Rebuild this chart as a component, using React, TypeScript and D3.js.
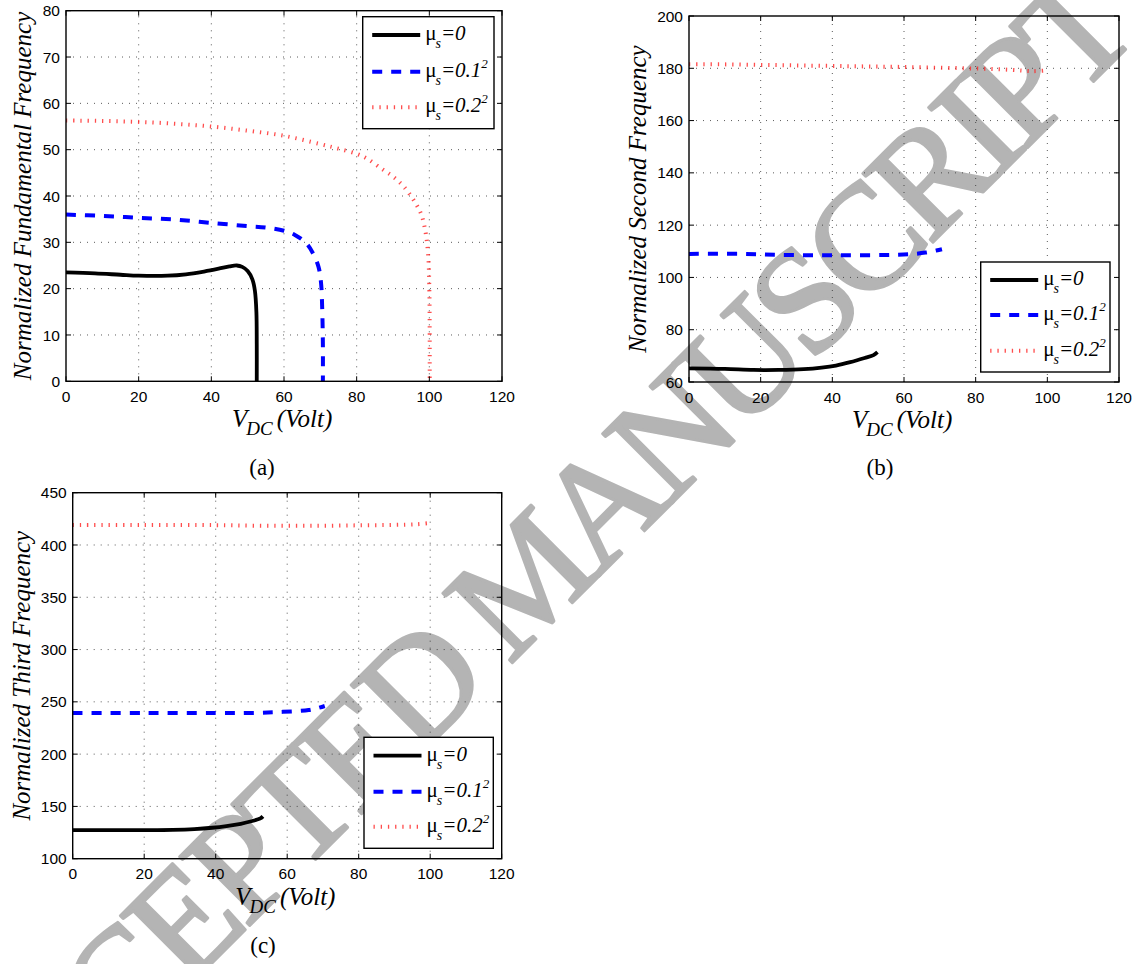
import React from "react";
import * as d3 from "d3";

type Pt = [number, number];

// Axis ticks
const vdcTicks = [0, 20, 40, 60, 80, 100, 120];
const fundTicks = [0, 10, 20, 30, 40, 50, 60, 70, 80];
const secondTicks = [60, 80, 100, 120, 140, 160, 180, 200];
const thirdTicks = [100, 150, 200, 250, 300, 350, 400, 450];

// Legend entries: base value and whether squared
const legendLabels = [
  { value: "0", squared: false },
  { value: "0.1", squared: true },
  { value: "0.2", squared: true },
];

// (a) normalized fundamental frequency vs V_DC
const fundMu0: Pt[] = [
  [0, 23.5], [8, 23.3], [15, 23.0], [20, 22.8], [28, 22.8], [33, 23.1], [38, 23.7],
  [42, 24.3], [45, 24.8], [47, 25.0], [48.5, 24.7], [50, 23.8], [51.3, 22.0],
  [52, 19.5], [52.4, 15], [52.5, 8], [52.5, 0],
];
const fundMu01: Pt[] = [
  [0, 36.0], [10, 35.7], [20, 35.3], [30, 34.9], [40, 34.2], [50, 33.5], [55, 33.2],
  [60, 32.5], [63, 31.6], [66, 29.9], [68, 27.6], [69.5, 24.7], [70.2, 21.2],
  [70.5, 16.1], [70.7, 8], [70.7, 0],
];
const fundMu02: Pt[] = [
  [0, 56.3], [10, 56.2], [20, 56.0], [30, 55.6], [40, 55.0], [50, 54.1], [60, 53.0],
  [70, 51.2], [75, 50.2], [80, 49.1], [83, 48.0], [87, 45.8], [90, 44.2], [93, 42.0],
  [96, 38.7], [97.8, 36.0], [99, 32.0], [99.7, 27.0], [100, 20.0], [100.1, 10], [100.1, 0],
];

// (b) normalized second frequency vs V_DC
const secondMu0: Pt[] = [
  [0, 65.2], [10, 65.0], [18, 64.6], [25, 64.6], [32, 64.9], [37, 65.5], [41, 66.3],
  [45, 67.6], [49, 69.2], [51.5, 70.3], [52.6, 71.4],
];
const secondMu01: Pt[] = [
  [0, 109.0], [15, 109.0], [25, 108.6], [40, 108.5], [55, 108.6], [62, 108.9],
  [66, 109.5], [69, 110.3], [70.6, 110.8],
];
const secondMu02: Pt[] = [
  [0, 181.5], [10, 181.5], [20, 181.3], [30, 181.1], [40, 180.9], [50, 180.7],
  [60, 180.5], [70, 180.2], [80, 179.9], [90, 179.4], [96, 178.9], [100, 179.2],
];

// (c) normalized third frequency vs V_DC
const thirdMu0: Pt[] = [
  [0, 127.4], [10, 127.4], [20, 127.4], [28, 127.6], [34, 128.3], [39, 129.6],
  [43, 131.2], [47, 133.4], [50, 135.8], [52.5, 138.5], [53.2, 140.5],
];
const thirdMu01: Pt[] = [
  [0, 239.3], [20, 239.3], [40, 239.3], [52, 239.5], [58, 240.3], [63, 241.2],
  [66, 242.2], [68.5, 244.0], [70.5, 246.0],
];
const thirdMu02: Pt[] = [
  [0, 419.0], [20, 419.2], [40, 419.0], [50, 418.5], [60, 418.3], [70, 418.4],
  [80, 418.8], [90, 419.2], [96, 419.8], [100, 421.0],
];

const W = 1141;
const H = 964;

const styles = [
  { stroke: "#000000", width: 3.8, dash: undefined as string | undefined, opacity: 1 },
  { stroke: "#0000ff", width: 4, dash: "10 9", opacity: 1 },
  { stroke: "#ff2020", width: 4, dash: "1.3 5.9", opacity: 0.8 },
];

const SERIF = "'Liberation Serif', 'Times New Roman', serif";
const SANS = "'Liberation Sans', Arial, Helvetica, sans-serif";

interface PanelSpec {
  left: number; top: number; right: number; bottom: number;
  yDomain: [number, number]; yTicks: number[]; ylabel: string; ylabelX: number;
  legend: { x: number; y: number; w: number; h: number; rows: number[] };
  caption: string; captionX: number; captionY: number;
  series: Pt[][];
}

const panels: PanelSpec[] = [
  {
    left: 66, top: 10.7, right: 502, bottom: 381.3,
    yDomain: [0, 80], yTicks: fundTicks, ylabel: "Normalized Fundamental Frequency", ylabelX: 31,
    legend: { x: 362.7, y: 16.7, w: 131.3, h: 112, rows: [35, 71.7, 107.3] },
    caption: "(a)", captionX: 262, captionY: 475,
    series: [fundMu0, fundMu01, fundMu02],
  },
  {
    left: 689, top: 16, right: 1119, bottom: 382,
    yDomain: [60, 200], yTicks: secondTicks, ylabel: "Normalized Second Frequency", ylabelX: 646,
    legend: { x: 980.7, y: 262, w: 129.3, h: 110, rows: [280, 315, 350.7] },
    caption: "(b)", captionX: 880, captionY: 475,
    series: [secondMu0, secondMu01, secondMu02],
  },
  {
    left: 72.7, top: 492.7, right: 501.7, bottom: 858.7,
    yDomain: [100, 450], yTicks: thirdTicks, ylabel: "Normalized Third Frequency", ylabelX: 29.5,
    legend: { x: 364, y: 737.3, w: 129.3, h: 111, rows: [755.7, 791.7, 826.7] },
    caption: "(c)", captionX: 263, captionY: 953,
    series: [thirdMu0, thirdMu01, thirdMu02],
  },
];

function Panel({ p }: { p: PanelSpec }) {
  const x = d3.scaleLinear().domain([0, 120]).range([p.left, p.right]);
  const y = d3.scaleLinear().domain(p.yDomain).range([p.bottom, p.top]);
  const line = d3
    .line<Pt>()
    .x((d) => x(d[0]))
    .y((d) => y(d[1]))
    .curve(d3.curveCatmullRom.alpha(0.5));
  const tickLen = 5;
  const cx = (p.left + p.right) / 2;
  const cy = (p.top + p.bottom) / 2;
  const lg = p.legend;
  return (
    <g>
      {/* dotted grid */}
      <g stroke="#333" strokeWidth={1} strokeDasharray="1 6" opacity={0.8}>
        {vdcTicks.slice(1, -1).map((t) => (
          <line key={"gx" + t} x1={x(t)} x2={x(t)} y1={p.bottom} y2={p.top} />
        ))}
        {p.yTicks.slice(1, -1).map((t) => (
          <line key={"gy" + t} x1={p.left} x2={p.right} y1={y(t)} y2={y(t)} />
        ))}
      </g>
      {/* curves */}
      {p.series.map((s, i) => (
        <path
          key={"s" + i}
          d={line(s) || ""}
          fill="none"
          stroke={styles[i].stroke}
          strokeWidth={styles[i].width}
          strokeDasharray={styles[i].dash}
          strokeOpacity={styles[i].opacity}
          strokeLinejoin="round"
        />
      ))}
      {/* inward ticks on all sides */}
      <g stroke="#000" strokeWidth={1}>
        {vdcTicks.map((t) => (
          <g key={"tx" + t}>
            <line x1={x(t)} x2={x(t)} y1={p.bottom} y2={p.bottom - tickLen} />
            <line x1={x(t)} x2={x(t)} y1={p.top} y2={p.top + tickLen} />
          </g>
        ))}
        {p.yTicks.map((t) => (
          <g key={"ty" + t}>
            <line x1={p.left} x2={p.left + tickLen} y1={y(t)} y2={y(t)} />
            <line x1={p.right} x2={p.right - tickLen} y1={y(t)} y2={y(t)} />
          </g>
        ))}
      </g>
      <rect
        x={p.left}
        y={p.top}
        width={p.right - p.left}
        height={p.bottom - p.top}
        fill="none"
        stroke="#000"
        strokeWidth={1.4}
      />
      {/* tick labels */}
      <g fontFamily={SANS} fontSize={15.5} fill="#000">
        {vdcTicks.map((t) => (
          <text key={"lx" + t} x={x(t)} y={p.bottom + 20.5} textAnchor="middle">
            {t}
          </text>
        ))}
        {p.yTicks.map((t) => (
          <text key={"ly" + t} x={p.left - 6} y={y(t)} dy="0.36em" textAnchor="end">
            {t}
          </text>
        ))}
      </g>
      {/* axis titles */}
      <text
        transform={`translate(${p.ylabelX},${cy}) rotate(-90)`}
        textAnchor="middle"
        fontFamily={SERIF}
        fontStyle="italic"
        fontSize={25}
      >
        {p.ylabel}
      </text>
      <text
        x={cx - 52}
        y={p.bottom + 46}
        fontFamily={SERIF}
        fontStyle="italic"
        fontSize={25}
      >
        <tspan>V</tspan>
        <tspan dx={-1} dy={8} fontSize={19}>DC</tspan>
        <tspan dx={4} dy={-8}>(Volt)</tspan>
      </text>
      <text x={p.captionX} y={p.captionY} textAnchor="middle" fontFamily={SERIF} fontSize={23}>
        {p.caption}
      </text>
      {/* legend */}
      <rect x={lg.x} y={lg.y} width={lg.w} height={lg.h} fill="#fff" stroke="#000" strokeWidth={1.4} />
      {lg.rows.map((ry, i) => (
        <g key={"lg" + i}>
          <line
            x1={lg.x + 9.5}
            x2={lg.x + 57.5}
            y1={ry}
            y2={ry}
            stroke={styles[i].stroke}
            strokeWidth={styles[i].width}
            strokeDasharray={styles[i].dash}
            strokeOpacity={styles[i].opacity}
          />
          <text x={lg.x + 62.5} y={ry + 5} fontFamily={SERIF} fontSize={21}>
            <tspan>μ</tspan>
            <tspan dx={-1} dy={8} fontSize={14} fontStyle="italic">s</tspan>
            <tspan dy={-8} fontStyle="italic">={legendLabels[i].value}</tspan>
            {legendLabels[i].squared && (
              <tspan dy={-9} fontSize={13} fontStyle="italic">2</tspan>
            )}
          </text>
        </g>
      ))}
    </g>
  );
}

export default function App() {
  return (
    <svg
      width={W}
      height={H}
      viewBox={`0 0 ${W} ${H}`}
      style={{ position: "absolute", left: 0, top: 0, display: "block", background: "#fff" }}
    >
      <rect width={W} height={H} fill="#fff" />
      {/* diagonal watermark behind the plots */}
      <text
        transform="translate(525,578) rotate(-45)"
        textAnchor="middle"
        dominantBaseline="central"
        fontFamily={SERIF}
        fontSize={150}
        letterSpacing={-8}
        fill="#b4b4b4"
        stroke="#b4b4b4"
        strokeWidth={3}
        strokeLinejoin="round"
      >
        ACCEPTED MANUSCRIPT
      </text>
      {panels.map((p, i) => (
        <Panel key={i} p={p} />
      ))}
    </svg>
  );
}
